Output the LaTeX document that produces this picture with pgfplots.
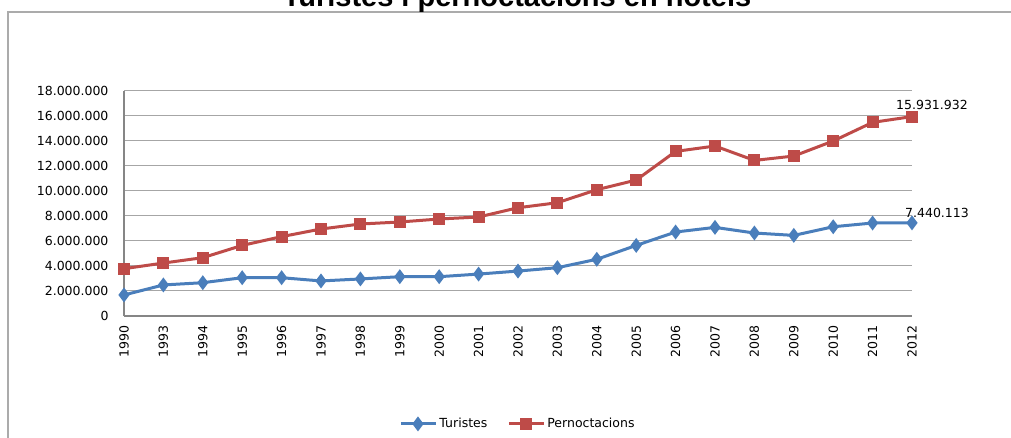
\documentclass[border=0pt]{standalone}
\usepackage{pgfplots}
\pgfplotsset{compat=1.18}
\usepackage{fontspec}
\setmainfont{DejaVu Sans}
\newfontfamily\titlefont{Liberation Sans}
\definecolor{turblue}{HTML}{4A7EBB}
\definecolor{perred}{HTML}{BE4B48}
\definecolor{gridgray}{HTML}{A6A6A6}
\definecolor{axisgray}{HTML}{868686}
\definecolor{framegray}{HTML}{ABABAB}
\newcommand{\lblfont}{\fontsize{12.5}{15}\selectfont}

\begin{document}
\begin{tikzpicture}[x=1pt,y=1pt]
\path[use as bounding box] (0,0) rectangle (1011,-438);
\clip (0,0) rectangle (1011,-438);
\draw[framegray, line width=1.5pt] (8,-460) |- (1040,-12);
\node[font=\titlefont\bfseries\fontsize{29}{29}\selectfont, anchor=base] at (517,-7) {Turistes i pernoctacions en hotels};
\begin{axis}[
  at={(124pt,-316pt)}, anchor=south west,
  scale only axis, width=788pt, height=225.3pt,
  xmin=0, xmax=20, ymin=0, ymax=18000000,
  ytick distance=2000000,
  xtick={0,...,20},
  xticklabels={1990,1993,1994,1995,1996,1997,1998,1999,2000,2001,2002,2003,2004,2005,2006,2007,2008,2009,2010,2011,2012},
  axis lines*=left,
  axis line style={axisgray, line width=1.5pt},
  major tick length=0pt,
  ymajorgrids, grid style={gridgray, line width=1pt},
  scaled ticks=false,
  yticklabel style={/pgf/number format/fixed, /pgf/number format/1000 sep={.}, /pgf/number format/assume math mode=true},
  tick label style={font=\lblfont},
  yticklabel shift=12pt,
  xticklabel style={rotate=90, anchor=east},
  xticklabel shift=6pt,
  clip=false,
  legend style={at={(0.5,-0.479)}, anchor=center, draw=none, font=\lblfont,
    legend columns=2, /tikz/every even column/.append style={column sep=18pt}},
  legend cell align=left,
  legend image code/.code={\draw[mark repeat=2,mark phase=2,#1] plot coordinates {(0pt,0pt) (17pt,0pt) (35pt,0pt)};},
]
\addplot[turblue, line width=3pt, mark=diamond*, mark size=5pt, mark options={solid}] coordinates {
(0,1680000) (1,2480000) (2,2660000) (3,3060000) (4,3060000) (5,2800000) (6,2960000)
(7,3140000) (8,3140000) (9,3350000) (10,3590000) (11,3860000) (12,4530000) (13,5640000)
(14,6710000) (15,7080000) (16,6630000) (17,6440000) (18,7130000) (19,7430000) (20,7440113)};
\addlegendentry{Turistes}
\addplot[perred, line width=3pt, mark=square*, mark size=4.5pt, mark options={solid}] coordinates {
(0,3780000) (1,4230000) (2,4660000) (3,5640000) (4,6340000) (5,6950000) (6,7350000)
(7,7510000) (8,7750000) (9,7910000) (10,8650000) (11,9050000) (12,10090000) (13,10860000)
(14,13150000) (15,13580000) (16,12430000) (17,12780000) (18,13980000) (19,15470000) (20,15931932)};
\addlegendentry{Pernoctacions}
\node[font=\lblfont, xshift=20pt, yshift=12pt] at (axis cs:20,15931932) {15.931.932};
\node[font=\lblfont, xshift=25pt, yshift=10pt] at (axis cs:20,7440113) {7.440.113};
\end{axis}
\end{tikzpicture}
\end{document}
